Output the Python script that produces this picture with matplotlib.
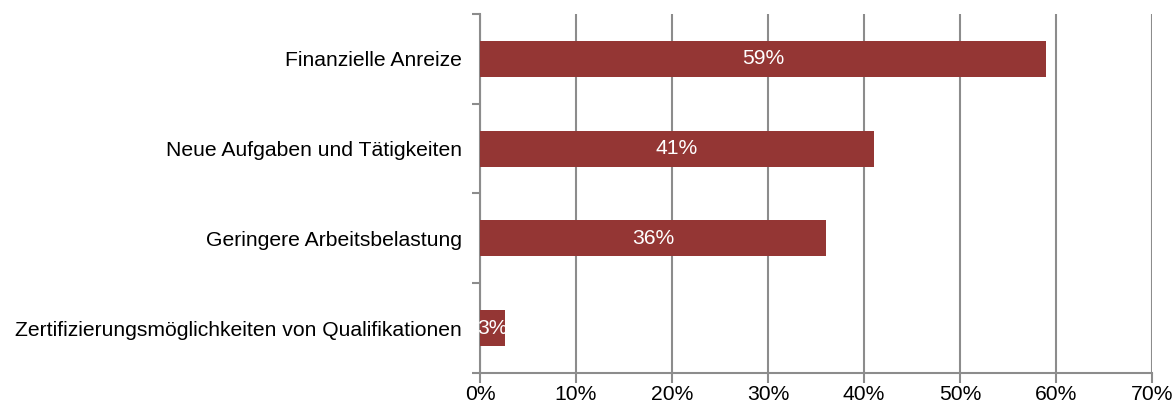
import matplotlib.pyplot as plt
from matplotlib.ticker import FixedLocator

plt.rcParams['font.family'] = ['Liberation Sans', 'DejaVu Sans']

# Daten (von oben nach unten)
categories = ['Finanzielle Anreize', 'Neue Aufgaben und Tätigkeiten',
              'Geringere Arbeitsbelastung',
              'Zertifizierungsmöglichkeiten von Qualifikationen']
values = [59, 41, 36, 2.6]
x_ticks = [0, 10, 20, 30, 40, 50, 60, 70]

bar_color = '#943634'
grid_color = '#8c8c8c'
fs = 15.2

fig = plt.figure(figsize=(11.75, 4.08), dpi=100)
ax = fig.add_axes([0.4085, 0.0858, 0.572, 0.880])

pos = list(range(len(categories)))[::-1]
bars = ax.barh(pos, values, height=0.4, color=bar_color, zorder=3)

for b, v in zip(bars, values):
    ax.text(b.get_width() / 2, b.get_y() + b.get_height() / 2, f'{round(v)}%',
            color='white', ha='center', va='center', fontsize=fs, zorder=4)

ax.set_xlim(0, 70)
ax.set_ylim(-0.5, len(categories) - 0.5)
ax.set_xticks(x_ticks)
ax.set_xticklabels([f'{t}%' for t in x_ticks], fontsize=fs)
ax.set_yticks(pos)
ax.set_yticklabels(categories, fontsize=fs)
ax.yaxis.set_minor_locator(FixedLocator([p - 0.5 for p in range(len(categories) + 1)]))

ax.tick_params(axis='y', which='major', length=0, pad=13)
ax.tick_params(axis='y', which='minor', length=6, color=grid_color, width=1.5)
ax.tick_params(axis='x', length=7, color=grid_color, width=1.5, pad=2)

ax.xaxis.grid(True, color=grid_color, linewidth=1.5, zorder=0)
for side in ['top', 'right']:
    ax.spines[side].set_visible(False)
for side in ['left', 'bottom']:
    ax.spines[side].set_color(grid_color)
    ax.spines[side].set_linewidth(1.5)

fig.savefig('out.png', dpi=100)
